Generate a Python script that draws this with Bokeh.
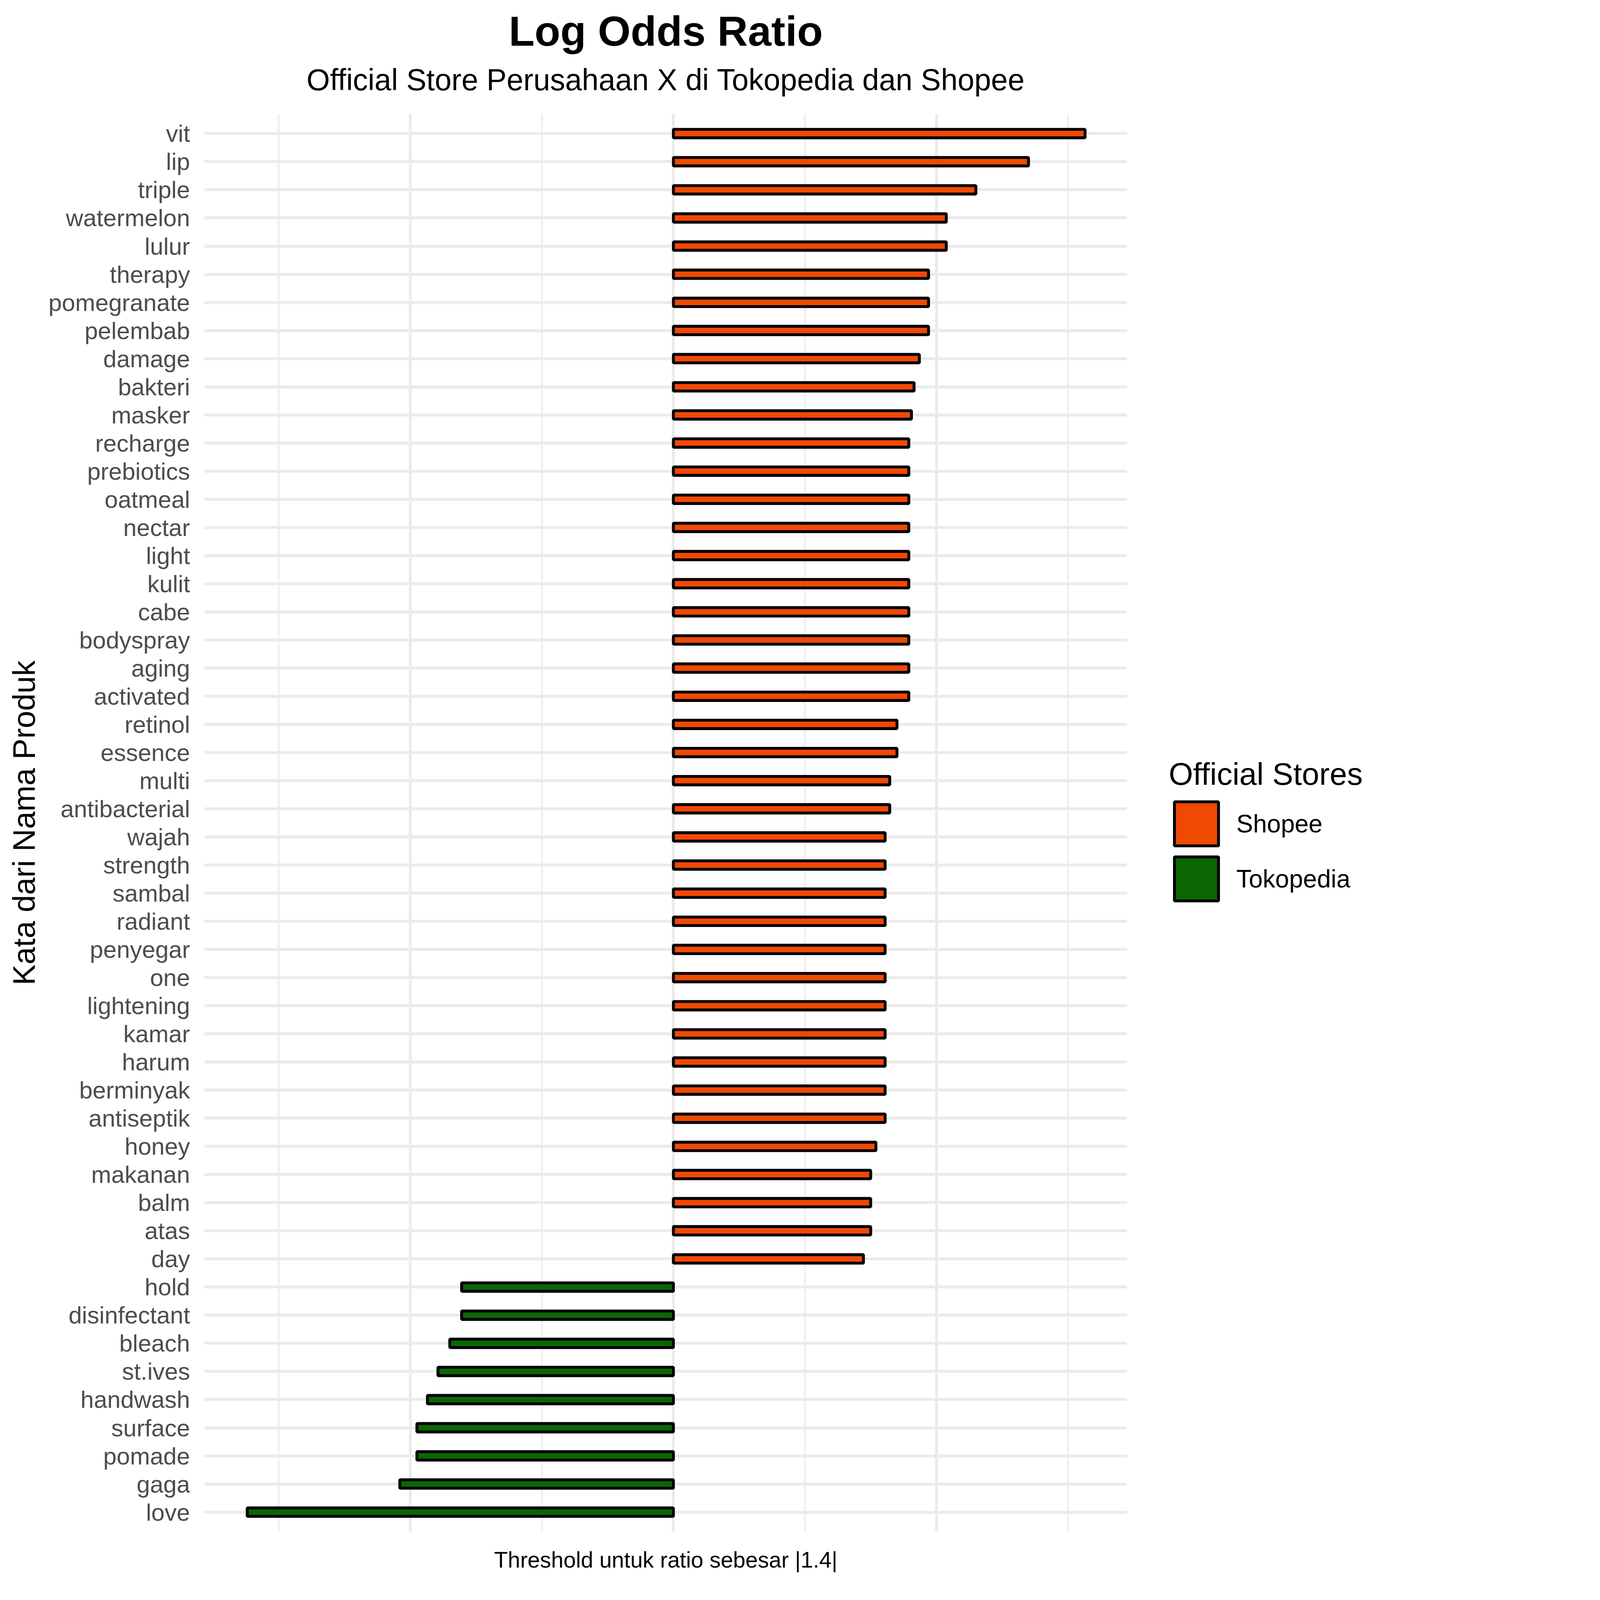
from bokeh.plotting import figure
from bokeh.models import (ColumnDataSource, FactorRange, Range1d, FixedTicker,
                          Legend, LegendItem, Title)
from bokeh.embed import file_html
from bokeh.resources import INLINE

# ---------------- data ----------------
shopee_words = ["vit", "lip", "triple", "watermelon", "lulur", "therapy", "pomegranate",
                "pelembab", "damage", "bakteri", "masker", "recharge", "prebiotics",
                "oatmeal", "nectar", "light", "kulit", "cabe", "bodyspray", "aging",
                "activated", "retinol", "essence", "multi", "antibacterial", "wajah",
                "strength", "sambal", "radiant", "penyegar", "one", "lightening",
                "kamar", "harum", "berminyak", "antiseptik", "honey", "makanan",
                "balm", "atas", "day"]
shopee_vals = [3.13, 2.70, 2.30, 2.075, 2.075, 1.94, 1.94,
               1.94, 1.87, 1.83, 1.81, 1.79, 1.79,
               1.79, 1.79, 1.79, 1.79, 1.79, 1.79, 1.79,
               1.79, 1.70, 1.70, 1.645, 1.645, 1.61,
               1.61, 1.61, 1.61, 1.61, 1.61, 1.61,
               1.61, 1.61, 1.61, 1.61, 1.54, 1.50,
               1.50, 1.50, 1.445]

tokopedia_words = ["hold", "disinfectant", "bleach", "st.ives", "handwash",
                   "surface", "pomade", "gaga", "love"]
tokopedia_vals = [-1.61, -1.61, -1.70, -1.79, -1.87, -1.95, -1.95, -2.08, -3.24]

stores = ["Shopee", "Tokopedia"]
store_colors = ["#F04904", "#0B6604"]

grid_major = [-2, 0, 2]
grid_minor = [-3, -1, 1, 3]

title_text = "Log Odds Ratio"
subtitle_text = "Official Store Perusahaan X di Tokopedia dan Shopee"
x_title = "Threshold untuk ratio sebesar |1.4|"
y_title = "Kata dari Nama Produk"
legend_title = "Official Stores"

FONT = "Liberation Sans"
GRID = "#EBEBEB"

all_words = shopee_words + tokopedia_words
factors = list(reversed(all_words))

p = figure(frame_width=2362, frame_height=3630,
           y_range=FactorRange(factors=factors, range_padding=0.2,
                               range_padding_units="absolute"),
           x_range=Range1d(-3.565, 3.45),
           output_backend="svg", toolbar_location=None,
           min_border_left=523, min_border_right=677,
           min_border_top=291, min_border_bottom=151)
p.outline_line_color = None
p.background_fill_color = "white"

src_s = ColumnDataSource(dict(word=shopee_words, val=shopee_vals))
src_t = ColumnDataSource(dict(word=tokopedia_words, val=tokopedia_vals))

r_s = p.hbar(y="word", left=0, right="val", height=0.3, source=src_s,
             fill_color=store_colors[0], line_color="black", line_width=7.4)
r_t = p.hbar(y="word", left=0, right="val", height=0.3, source=src_t,
             fill_color=store_colors[1], line_color="black", line_width=7.4)

# ---------------- axes ----------------
p.xaxis.ticker = FixedTicker(ticks=[])
p.xaxis.major_label_standoff = 0
p.xaxis.major_tick_out = 0
p.xaxis.major_tick_in = 0
p.xaxis.minor_tick_out = 0
p.xaxis.minor_tick_in = 0
p.xaxis.axis_line_color = None
p.xaxis.axis_label = x_title
p.xaxis.axis_label_text_font = FONT
p.xaxis.axis_label_text_font_size = "57px"
p.xaxis.axis_label_text_font_style = "normal"
p.xaxis.axis_label_text_color = "black"
p.xaxis.axis_label_standoff = 39

p.yaxis.major_tick_out = 0
p.yaxis.major_tick_in = 0
p.yaxis.axis_line_color = None
p.yaxis.major_label_standoff = 37
p.yaxis.major_label_text_font = FONT
p.yaxis.major_label_text_font_size = "61.5px"
p.yaxis.major_label_text_color = "#4D4D4D"
p.yaxis.axis_label = y_title
p.yaxis.axis_label_text_font = FONT
p.yaxis.axis_label_text_font_size = "80px"
p.yaxis.axis_label_text_font_style = "normal"
p.yaxis.axis_label_text_color = "black"
p.yaxis.axis_label_standoff = 15

# ---------------- grid ----------------
p.xgrid.ticker = FixedTicker(ticks=grid_major, minor_ticks=grid_minor)
p.xgrid.grid_line_color = GRID
p.xgrid.grid_line_width = 7.4
p.xgrid.minor_grid_line_color = GRID
p.xgrid.minor_grid_line_width = 3.7
p.ygrid.grid_line_color = GRID
p.ygrid.grid_line_width = 7.4

# ---------------- titles (first added sits nearest the frame) ----------------
p.add_layout(Title(text=subtitle_text, align="center", text_font=FONT,
                   text_font_size="77px", text_font_style="normal",
                   text_color="black", standoff=90), "above")
p.add_layout(Title(text=title_text, align="center", text_font=FONT,
                   text_font_size="108px", text_font_style="bold",
                   text_color="black", standoff=-52), "above")

# ---------------- legend ----------------
legend = Legend(items=[LegendItem(label=stores[0], renderers=[r_s]),
                       LegendItem(label=stores[1], renderers=[r_t])],
                location=(107, 1601), margin=0, padding=0,
                border_line_alpha=0, background_fill_alpha=0,
                glyph_width=141, glyph_height=141, spacing=0,
                label_standoff=32, label_text_font=FONT,
                label_text_font_size="64px", label_text_color="black",
                title=legend_title, title_text_font=FONT,
                title_text_font_size="80px", title_text_font_style="normal",
                title_text_color="black", title_standoff=10)
p.add_layout(legend, "right")

open("out.html", "w").write(file_html(p, INLINE))
